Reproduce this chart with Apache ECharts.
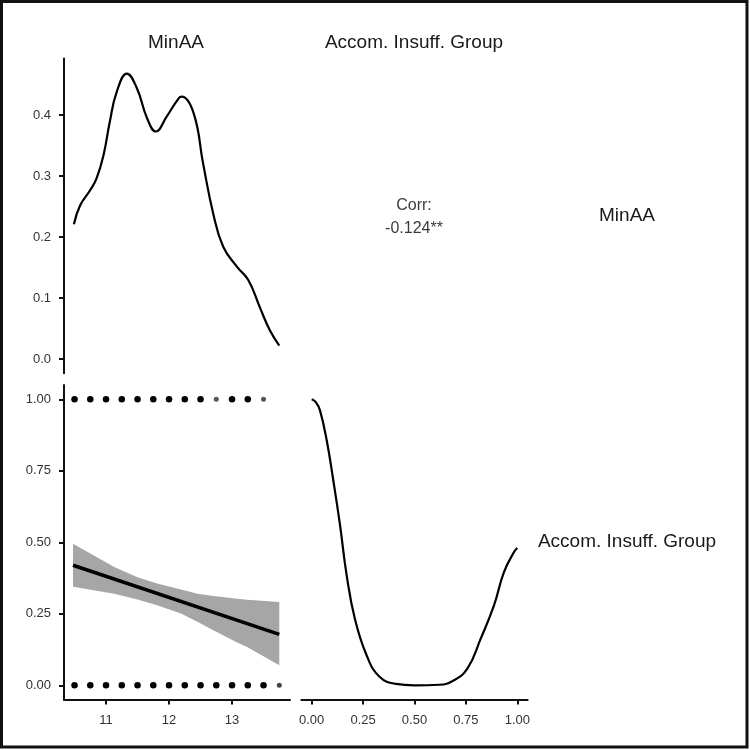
<!DOCTYPE html>
<html>
<head>
<meta charset="utf-8">
<script src="https://cdn.jsdelivr.net/npm/echarts@6/dist/echarts.min.js"></script>
<style>
  html, body { margin: 0; padding: 0; background: #fff; }
  #main { width: 750px; height: 750px; }
</style>
</head>
<body>
<div id="main"></div>
<script>
// variable names (strip labels)
var varNames = ['MinAA', 'Accom. Insuff. Group'];
var corrLabel = 'Corr:';
var corrValue = '-0.124**';

// density of MinAA (diag, top-left)
var minaaDensX = [10.49, 10.59, 10.75, 10.85, 10.96, 11.06, 11.17, 11.33, 11.49, 11.65, 11.79, 11.96, 12.15, 12.2, 12.39, 12.54, 12.7, 12.86, 13.08, 13.26, 13.44, 13.6, 13.75];
var minaaDensY = [0.221, 0.252, 0.277, 0.296, 0.334, 0.389, 0.438, 0.468, 0.444, 0.395, 0.373, 0.397, 0.427, 0.430, 0.403, 0.321, 0.239, 0.184, 0.151, 0.129, 0.085, 0.047, 0.022];

// density of Accom. Insuff. Group (diag, bottom-right), relative height
var groupDensX = [0, 0.02, 0.04, 0.073, 0.105, 0.138, 0.17, 0.21, 0.267, 0.33, 0.41, 0.5, 0.62, 0.69, 0.757, 0.822, 0.887, 0.935, 0.984, 1.0];
var groupDensY = [1.0, 0.99, 0.962, 0.857, 0.717, 0.559, 0.385, 0.233, 0.105, 0.03, 0.005, 0, 0.002, 0.017, 0.058, 0.163, 0.28, 0.396, 0.466, 0.48];

// scatter: MinAA values observed in each group
var group1X = [10.5, 10.75, 11, 11.25, 11.5, 11.75, 12, 12.25, 12.5, 12.75, 13, 13.25, 13.5];
var group0X = [10.5, 10.75, 11, 11.25, 11.5, 11.75, 12, 12.25, 12.5, 12.75, 13, 13.25, 13.5, 13.75];
var rareX1 = [12.75, 13.5];
var rareX0 = [13.75];

// linear fit with confidence band
var fitX = [10.476, 13.75];
var fitY = [0.42, 0.178];
var bandX = [10.476, 11.13, 11.5, 11.81, 12.19, 12.45, 12.71, 13.08, 13.24, 13.75];
var bandLow = [0.345, 0.32, 0.30, 0.28, 0.251, 0.222, 0.192, 0.15, 0.134, 0.07];
var bandHigh = [0.495, 0.414, 0.378, 0.356, 0.335, 0.32, 0.312, 0.303, 0.299, 0.291];

// tick labels
var densTicks = [0, 0.1, 0.2, 0.3, 0.4];
var minaaTicks = [11, 12, 13];
var groupTicks = [0, 0.25, 0.5, 0.75, 1];

var chart = echarts.init(document.getElementById('main'), null, { renderer: 'canvas' });

var FONT = '"Liberation Sans", Arial, sans-serif';
var axisCol = '#111';
var labCol = '#333';

function zip(a, b) {
  return a.map(function (v, i) { return [v, b[i]]; });
}

function axisBase(ticks, digits, margin) {
  return {
    type: 'value',
    axisLine: { show: true, onZero: false, lineStyle: { color: axisCol, width: 2 } },
    axisTick: { show: true, length: 5, customValues: ticks, lineStyle: { color: axisCol, width: 2 } },
    axisLabel: {
      customValues: ticks, margin: margin, color: labCol, fontSize: 13, fontFamily: FONT,
      formatter: function (v) { return Number(v).toFixed(digits); }
    },
    splitLine: { show: false }
  };
}

var rowTop1 = 58.6, rowH1 = 314.7;
var rowTop2 = 385, rowH2 = 314.6;
var colL1 = 64, colW1 = 226;
var colL2 = 301.4, colW2 = 226.2;

var option = {
  backgroundColor: '#fff',
  animation: false,
  grid: [
    { left: colL1, top: rowTop1, width: colW1, height: rowH1 },
    { left: colL1, top: rowTop2, width: colW1, height: rowH2 },
    { left: colL2, top: rowTop2, width: colW2, height: rowH2 }
  ],
  xAxis: [
    { type: 'value', gridIndex: 0, min: 10.333, max: 13.92, show: false },
    Object.assign(axisBase(minaaTicks, 0, 14), { gridIndex: 1, min: 10.333, max: 13.92 }),
    Object.assign(axisBase(groupTicks, 2, 14), { gridIndex: 2, min: -0.05, max: 1.05 })
  ],
  yAxis: [
    Object.assign(axisBase(densTicks, 1, 13), { gridIndex: 0, min: -0.0235, max: 0.4925 }),
    Object.assign(axisBase(groupTicks, 2, 13), { gridIndex: 1, min: -0.05, max: 1.05 }),
    { type: 'value', gridIndex: 2, min: -0.05, max: 1.05, show: false }
  ],
  series: [
    {
      type: 'line', xAxisIndex: 0, yAxisIndex: 0,
      data: zip(minaaDensX, minaaDensY),
      smooth: 0.45, showSymbol: false,
      lineStyle: { color: '#000', width: 2.2 }
    },
    {
      type: 'custom', xAxisIndex: 1, yAxisIndex: 1,
      data: bandX.map(function (x, i) { return [x, bandLow[i], bandHigh[i]]; }),
      renderItem: function (params, api) {
        if (params.dataIndex !== 0) return;
        var up = [], down = [];
        for (var i = 0; i < bandX.length; i++) {
          up.push(api.coord([bandX[i], bandHigh[i]]));
          down.unshift(api.coord([bandX[i], bandLow[i]]));
        }
        return {
          type: 'polygon',
          shape: { points: up.concat(down) },
          style: { fill: '#a6a6a6' }
        };
      },
      z: 1
    },
    {
      type: 'line', xAxisIndex: 1, yAxisIndex: 1,
      data: zip(fitX, fitY),
      showSymbol: false,
      lineStyle: { color: '#000', width: 3.6 },
      z: 3
    },
    {
      type: 'scatter', xAxisIndex: 1, yAxisIndex: 1,
      data: group1X.map(function (x) {
        var rare = rareX1.indexOf(x) >= 0;
        return { value: [x, 1], symbolSize: rare ? 5 : 6.5, itemStyle: { color: rare ? '#555' : '#000' } };
      }).concat(group0X.map(function (x) {
        var rare = rareX0.indexOf(x) >= 0;
        return { value: [x, 0], symbolSize: rare ? 5 : 6.5, itemStyle: { color: rare ? '#444' : '#000' } };
      })),
      itemStyle: { color: '#000', opacity: 1 },
      z: 4
    },
    {
      type: 'line', xAxisIndex: 2, yAxisIndex: 2,
      data: zip(groupDensX, groupDensY),
      smooth: 0.45, showSymbol: false,
      lineStyle: { color: '#000', width: 2.2 }
    }
  ],
  graphic: [
    {
      type: 'rect', silent: true, z: 100,
      shape: { x: 1.5, y: 1.5, width: 745.5, height: 745.5 },
      style: { fill: null, stroke: '#111', lineWidth: 3 }
    },
    { type: 'text', x: 176, y: 43, style: { text: varNames[0], font: '19px ' + FONT, fill: '#1a1a1a', textAlign: 'center', textVerticalAlign: 'middle' } },
    { type: 'text', x: 414, y: 43, style: { text: varNames[1], font: '19px ' + FONT, fill: '#1a1a1a', textAlign: 'center', textVerticalAlign: 'middle' } },
    { type: 'text', x: 627, y: 216, style: { text: varNames[0], font: '19px ' + FONT, fill: '#1a1a1a', textAlign: 'center', textVerticalAlign: 'middle' } },
    { type: 'text', x: 627, y: 542, style: { text: varNames[1], font: '19px ' + FONT, fill: '#1a1a1a', textAlign: 'center', textVerticalAlign: 'middle' } },
    { type: 'text', x: 414, y: 206, style: { text: corrLabel, font: '16px ' + FONT, fill: '#3b3b3b', textAlign: 'center', textVerticalAlign: 'middle' } },
    { type: 'text', x: 414, y: 229, style: { text: corrValue, font: '16px ' + FONT, fill: '#3b3b3b', textAlign: 'center', textVerticalAlign: 'middle' } }
  ]
};

chart.setOption(option);
</script>
</body>
</html>
